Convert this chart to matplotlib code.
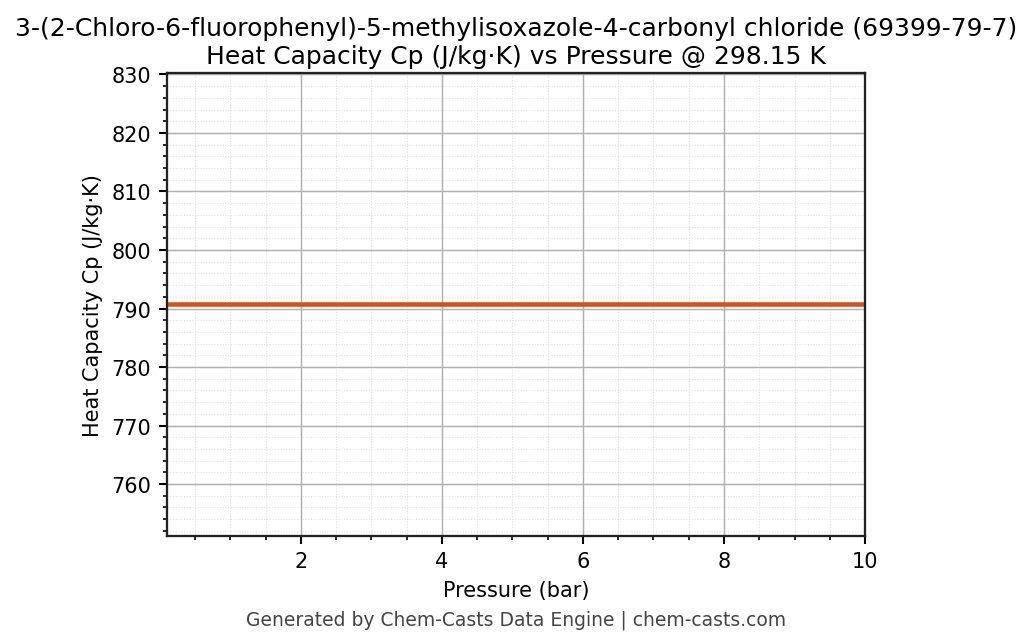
import matplotlib
matplotlib.use('Agg')
import matplotlib.pyplot as plt
from matplotlib.ticker import AutoMinorLocator

# data
pressure = [0.1, 10.0]
cp = [790.7, 790.7]
cp_ref = 790.7

fig = plt.figure(figsize=(6.88, 4.2933), dpi=150)
ax = fig.add_axes([0.1618, 0.1665, 0.6764, 0.7185])

ax.plot(pressure, cp, color='#d4521e', lw=2.2)

ax.set_xlim(0.1, 10)
ax.set_ylim(cp_ref * 0.95, cp_ref * 1.05)
ax.set_xticks([2, 4, 6, 8, 10])
ax.xaxis.set_minor_locator(AutoMinorLocator(4))
ax.yaxis.set_minor_locator(AutoMinorLocator(5))

ax.grid(True, which='major', color='#b0b0b0', lw=0.7)
ax.grid(True, which='minor', color='#e0e0e0', lw=0.5, ls=':')

for s in ax.spines.values():
    s.set_color('#222222')
    s.set_linewidth(1.1)
ax.tick_params(which='major', length=4, width=1, labelsize=10)
ax.tick_params(which='minor', length=2, width=0.8)

ax.set_xlabel('Pressure (bar)', fontsize=10)
ax.set_ylabel('Heat Capacity Cp (J/kg·K)', fontsize=10)
ax.set_title('3-(2-Chloro-6-fluorophenyl)-5-methylisoxazole-4-carbonyl chloride (69399-79-7)\n'
             'Heat Capacity Cp (J/kg·K) vs Pressure @ 298.15 K', fontsize=12, pad=5)

fig.text(0.5, 0.028, 'Generated by Chem-Casts Data Engine | chem-casts.com',
         ha='center', fontsize=9, color='#444444')

fig.savefig('out.png', dpi=150)
